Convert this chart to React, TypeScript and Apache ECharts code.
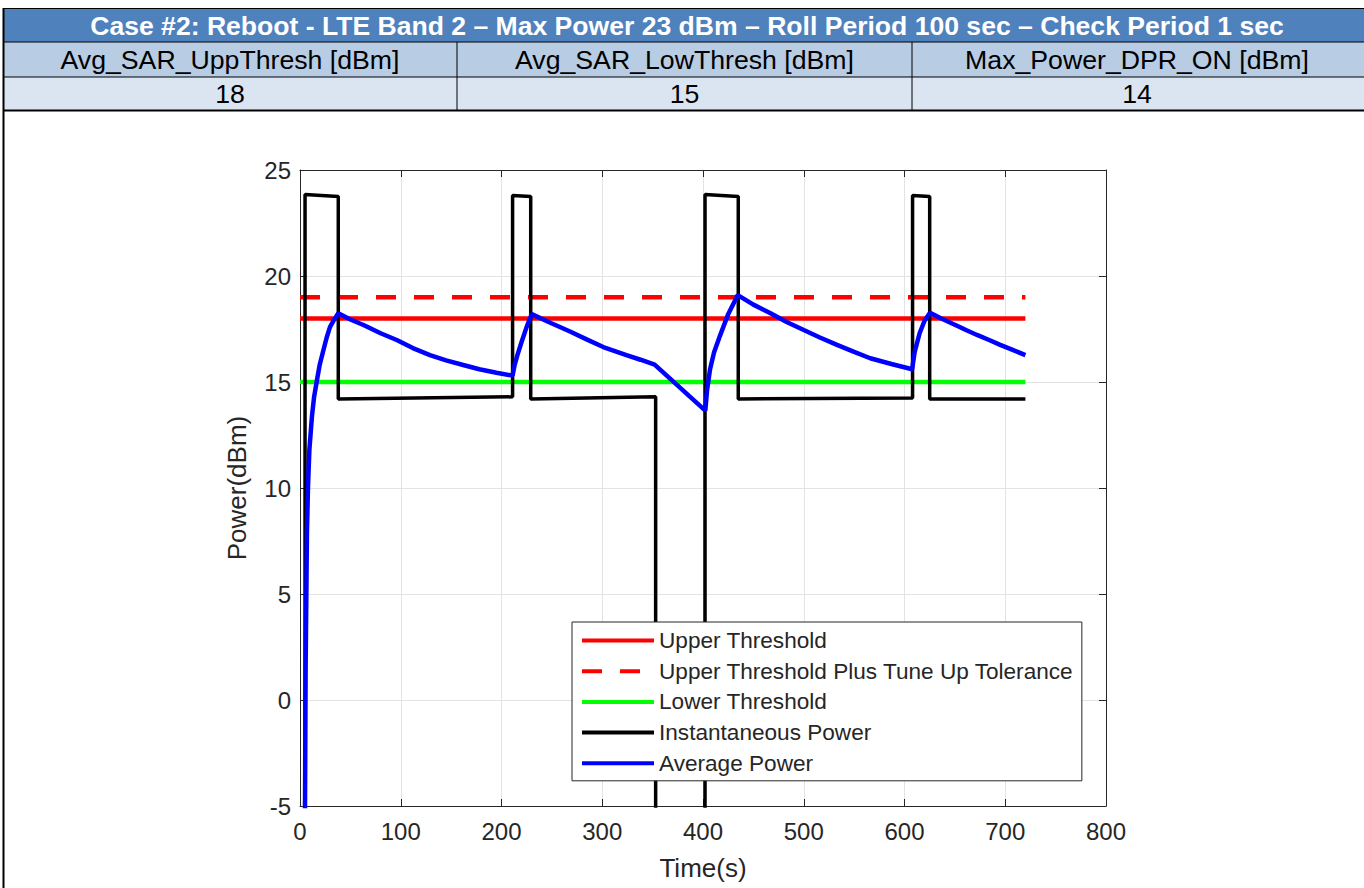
import React, { useEffect, useRef } from "react";
import * as echarts from "echarts";

const TITLE = "Case #2: Reboot - LTE Band 2 – Max Power 23 dBm – Roll Period 100 sec – Check Period 1 sec";
const tableHeaders = ["Avg_SAR_UppThresh [dBm]", "Avg_SAR_LowThresh [dBm]", "Max_Power_DPR_ON [dBm]"];
const tableValues = ["18", "15", "14"];

const xAxisMin = 0;
const xAxisMax = 800;
const xAxisStep = 100;
const yAxisMin = -5;
const yAxisMax = 25;
const yAxisStep = 5;

const seriesNames = [
  "Upper Threshold",
  "Upper Threshold Plus Tune Up Tolerance",
  "Lower Threshold",
  "Instantaneous Power",
  "Average Power",
];

const thresholdTime = [0, 720];
const upperThreshold = [18, 18];
const upperThresholdTol = [19, 19];
const lowerThreshold = [15, 15];

const instTime = [5, 5, 38, 38, 211, 211, 229, 229, 353, 353, 402, 402, 435, 435, 608, 608, 625, 625, 720];
const instPower = [-10, 23.85, 23.75, 14.2, 14.3, 23.8, 23.75, 14.2, 14.3, -10, -10, 23.85, 23.75, 14.2, 14.25, 23.8, 23.75, 14.2, 14.2];

const avgTime = [
  4.8, 5.0, 5.3, 5.6, 6.3, 6.9, 7.9, 9.3, 11.9, 14, 16.5, 19.5, 23.2, 26.5, 29.8, 34, 38,
  50, 63, 80, 96, 112, 129, 145, 162, 178, 195, 211,
  213, 216, 220, 225, 230,
  249, 268, 285, 301, 324, 338, 352,
  402.3,
  404, 407, 411, 417, 425, 434.5,
  450, 467, 483, 500, 516, 533, 550, 566, 587, 607.6,
  610, 615, 620, 625.3,
  637, 650, 661, 672, 684, 695, 708, 720,
];
const avgPower = [
  -6, -4.7, -1.5, 1.6, 5.0, 7.9, 10.0, 11.8, 13.4, 14.3, 15.0, 15.8, 16.5, 17.1, 17.6, 17.95, 18.24,
  17.95, 17.69, 17.3, 16.98, 16.6, 16.27, 16.02, 15.8, 15.6, 15.44, 15.3,
  15.8, 16.3, 16.9, 17.6, 18.2,
  17.78, 17.38, 17.0, 16.65, 16.27, 16.05, 15.82,
  13.65,
  14.6, 15.6, 16.4, 17.2, 18.2, 19.1,
  18.65, 18.24, 17.83, 17.45, 17.1, 16.75, 16.42, 16.12, 15.85, 15.6,
  16.4, 17.3, 17.9, 18.27,
  17.98, 17.7, 17.45, 17.22, 16.98, 16.75, 16.5, 16.27,
];

const zip = (xs: number[], ys: number[]) => xs.map((x, i) => [x, ys[i]]);

const AXIS_COLOR = "#262626";
const FONT = "'Liberation Sans', Arial, Helvetica, sans-serif";

function cellText(text: string, x: number, y: number, font: string, fill: string, sx: number) {
  return {
    type: "text",
    x,
    y,
    scaleX: sx,
    style: {
      text, x: 0, y: 0, fill, font,
      textAlign: "center", textVerticalAlign: "middle", align: "center", verticalAlign: "middle",
    },
    silent: true,
  };
}

function buildTable() {
  const els: any[] = [];
  const left = 3;
  const right = 1362;
  const colX = [left, 457, 912, right];
  const fullRight = 1366;
  els.push({ type: "rect", shape: { x: left, y: 9, width: fullRight - left, height: 33 }, style: { fill: "#4f81bd" }, silent: true });
  els.push({ type: "rect", shape: { x: left, y: 42, width: fullRight - left, height: 35 }, style: { fill: "#b8cce4" }, silent: true });
  els.push({ type: "rect", shape: { x: left, y: 77, width: fullRight - left, height: 33 }, style: { fill: "#dbe5f1" }, silent: true });
  const hline = (y: number, w: number) =>
    els.push({ type: "line", shape: { x1: left, y1: y, x2: fullRight, y2: y }, style: { stroke: "#000", lineWidth: w }, silent: true });
  hline(8.5, 1);
  hline(42, 1);
  hline(77, 1);
  hline(110.5, 2);
  for (let i = 1; i < 3; i++) {
    els.push({ type: "line", shape: { x1: colX[i], y1: 42, x2: colX[i], y2: 110 }, style: { stroke: "#000", lineWidth: 1 }, silent: true });
  }
  els.push({ type: "line", shape: { x1: 3.5, y1: 8, x2: 3.5, y2: 888 }, style: { stroke: "#000", lineWidth: 2 }, silent: true });
  els.push(cellText(TITLE, 687, 26, `bold 25px ${FONT}`, "#ffffff", 1.063));
  for (let i = 0; i < 3; i++) {
    const cx = (colX[i] + colX[i + 1]) / 2;
    els.push(cellText(tableHeaders[i], cx, 60, `25px ${FONT}`, "#000000", 1.067));
    els.push(cellText(tableValues[i], cx, 94, `25px ${FONT}`, "#000000", 1.067));
  }
  return els;
}

export default function App() {
  const ref = useRef<HTMLDivElement>(null);
  useEffect(() => {
    if (!ref.current) return;
    const chart = echarts.init(ref.current, undefined, { renderer: "svg" });
    const gridSplit = { show: true, lineStyle: { color: "#e3e3e3", width: 1 } };
    const baseX = {
      type: "value" as const,
      min: xAxisMin,
      max: xAxisMax,
      interval: xAxisStep,
      axisLine: { show: true, onZero: false, lineStyle: { color: AXIS_COLOR, width: 1 } },
      axisTick: { show: true, inside: true, length: 7, lineStyle: { color: AXIS_COLOR } },
    };
    const baseY = {
      type: "value" as const,
      min: yAxisMin,
      max: yAxisMax,
      interval: yAxisStep,
      axisLine: { show: true, onZero: false, lineStyle: { color: AXIS_COLOR, width: 1 } },
      axisTick: { show: true, inside: true, length: 7, lineStyle: { color: AXIS_COLOR } },
    };
    const lineSeries = (name: string, data: number[][], color: string, width: number, type: any = "solid", z = 2) => ({
      type: "line",
      name,
      data,
      showSymbol: false,
      symbol: "none",
      clip: true,
      z,
      lineStyle: { color, width, type },
      itemStyle: { color },
      emphasis: { disabled: true },
    });
    chart.setOption({
      animation: false,
      backgroundColor: "#ffffff",
      textStyle: { fontFamily: FONT },
      grid: { left: 300, top: 170, width: 806, height: 636, containLabel: false },
      xAxis: [
        {
          ...baseX,
          position: "bottom",
          name: "Time(s)",
          nameLocation: "middle",
          nameGap: 49,
          nameTextStyle: { fontSize: 26, color: AXIS_COLOR, fontFamily: FONT },
          axisLabel: { show: true, fontSize: 24, color: AXIS_COLOR, margin: 13, fontFamily: FONT },
          splitLine: gridSplit,
        },
        {
          ...baseX,
          position: "top",
          axisLabel: { show: false },
          splitLine: { show: false },
        },
      ],
      yAxis: [
        {
          ...baseY,
          position: "left",
          name: "Power(dBm)",
          nameLocation: "middle",
          nameGap: 50,
          nameTextStyle: { fontSize: 26, color: AXIS_COLOR, fontFamily: FONT },
          axisLabel: { show: true, fontSize: 24, color: AXIS_COLOR, margin: 9, fontFamily: FONT },
          splitLine: gridSplit,
        },
        {
          ...baseY,
          position: "right",
          axisLabel: { show: false },
          splitLine: { show: false },
        },
      ],
      legend: {
        show: true,
        orient: "vertical",
        left: 572,
        top: 622,
        data: seriesNames,
        backgroundColor: "#ffffff",
        borderColor: AXIS_COLOR,
        borderWidth: 1,
        borderRadius: 0,
        padding: [7, 8, 6, 8],
        itemWidth: 72,
        itemHeight: 14,
        itemGap: 7.7,
        selectedMode: false,
        itemStyle: { opacity: 0 },
        lineStyle: { width: 4 },
        textStyle: { fontSize: 22.6, lineHeight: 22, color: AXIS_COLOR, fontFamily: FONT },
        z: 10,
      },
      graphic: buildTable(),
      series: [
        lineSeries(seriesNames[0], zip(thresholdTime, upperThreshold), "#ff0000", 4.5),
        lineSeries(seriesNames[1], zip(thresholdTime, upperThresholdTol), "#ff0000", 4.5, [20, 18]),
        lineSeries(seriesNames[2], zip(thresholdTime, lowerThreshold), "#00ff00", 4.5),
        lineSeries(seriesNames[3], zip(instTime, instPower), "#000000", 3.5, "solid", 3),
        lineSeries(seriesNames[4], zip(avgTime, avgPower), "#0000ff", 4.5, "solid", 4),
      ],
    });
    return () => chart.dispose();
  }, []);
  return (
    <div
      ref={ref}
      style={{ position: "fixed", left: 0, top: 0, width: 1364, height: 888, background: "#fff" }}
    />
  );
}
